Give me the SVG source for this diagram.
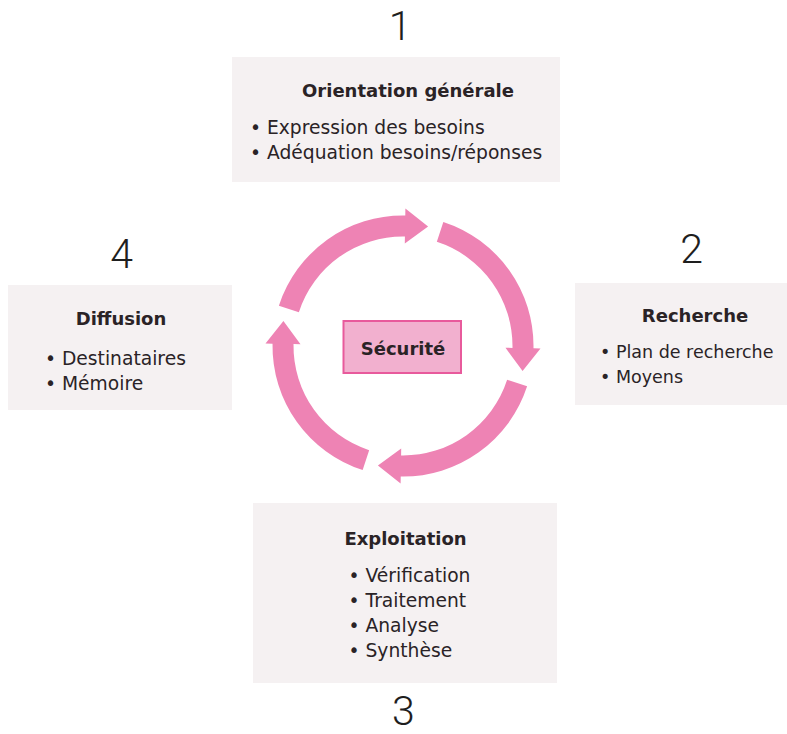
<svg xmlns="http://www.w3.org/2000/svg" xmlns:xlink="http://www.w3.org/1999/xlink" width="787" height="734" viewBox="0 0 787 734">
<style>
  .box { fill: #f5f1f2; }
  .num { font-family: Roboto, "Liberation Sans", sans-serif; font-weight: 300; font-size: 41px; fill: #1e1e1e; text-anchor: middle; }
  .head { font-family: "DejaVu Sans", sans-serif; font-weight: bold; font-size: 18px; fill: #2a2326; text-anchor: middle; }
  .item { font-family: "DejaVu Sans", sans-serif; font-size: 18.7px; fill: #2a2326; }
  .arrow { fill: #ee83b4; }
</style>
<defs>
  <path id="arc-arrow" d="M -124.11,-40.33 A 130.5 130.5 0 0 1 2.28,-130.48 L 2.39,-137.5 L 25.09,-119.58 L 1.80,-102.5 L 1.91,-109.48 A 109.5 109.5 0 0 0 -104.14,-33.84 Z"/>
</defs>
<rect width="787" height="734" fill="#ffffff"/>

<g id="connectors">
  <use xlink:href="#arc-arrow" class="arrow" transform="translate(403,346)"/>
  <use xlink:href="#arc-arrow" class="arrow" transform="translate(403,346) rotate(90)"/>
  <use xlink:href="#arc-arrow" class="arrow" transform="translate(403,346) rotate(180)"/>
  <use xlink:href="#arc-arrow" class="arrow" transform="translate(403,346) rotate(270)"/>
</g>

<g id="center">
  <rect x="343.5" y="321" width="117.5" height="52" fill="#f2b0cf" stroke="#e85a9c" stroke-width="2"/>
  <text x="403" y="354.5" class="head">Sécurité</text>
</g>

<g id="step1">
  <text x="400" y="39.5" class="num">1</text>
  <rect class="box" x="232" y="57" width="328" height="125"/>
  <text x="408" y="96.7" class="head">Orientation générale</text>
  <text x="250" y="134" class="item">• Expression des besoins</text>
  <text x="250" y="159" class="item">• Adéquation besoins/réponses</text>
</g>

<g id="step2">
  <text x="691.7" y="263" class="num">2</text>
  <rect class="box" x="575" y="283" width="212" height="122"/>
  <text x="695" y="321.7" class="head">Recherche</text>
  <text x="600" y="358.3" class="item" style="font-size:17.5px">• Plan de recherche</text>
  <text x="600" y="383" class="item" style="font-size:17.5px">• Moyens</text>
</g>

<g id="step3">
  <rect class="box" x="253" y="503" width="304" height="180"/>
  <text x="405.5" y="545" class="head">Exploitation</text>
  <text x="348.5" y="581.7" class="item">• Vérification</text>
  <text x="348.5" y="606.7" class="item">• Traitement</text>
  <text x="348.5" y="631.7" class="item">• Analyse</text>
  <text x="348.5" y="656.7" class="item">• Synthèse</text>
  <text x="403.3" y="725" class="num">3</text>
</g>

<g id="step4">
  <text x="121.5" y="268" class="num">4</text>
  <rect class="box" x="8" y="285" width="224" height="125"/>
  <text x="121" y="325" class="head">Diffusion</text>
  <text x="45" y="365" class="item">• Destinataires</text>
  <text x="45" y="390" class="item">• Mémoire</text>
</g>
</svg>
